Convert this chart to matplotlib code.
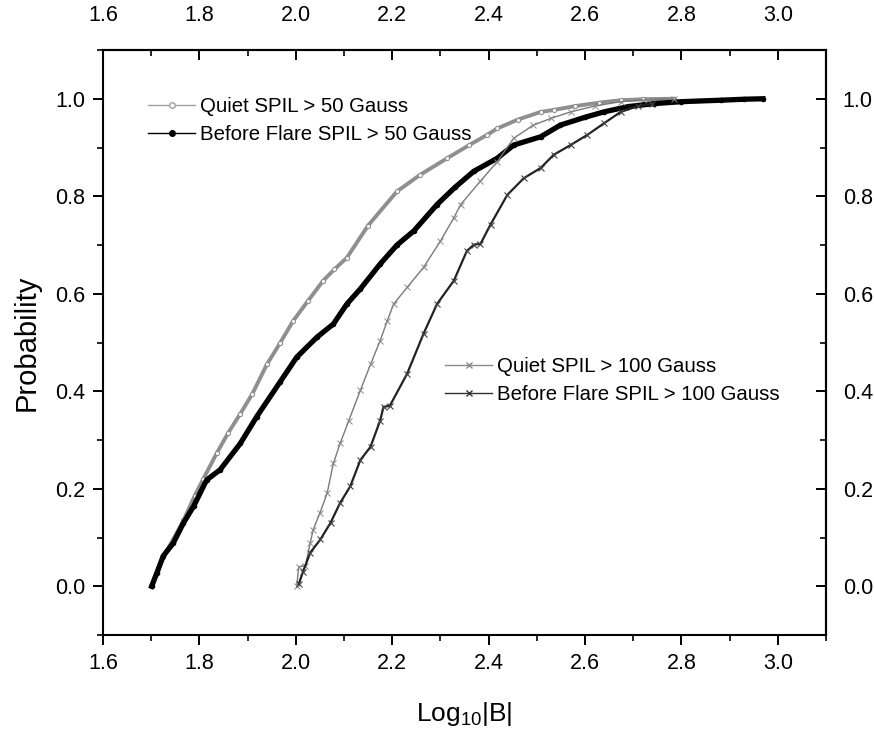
import matplotlib
matplotlib.use("Agg")
import matplotlib.pyplot as plt
from matplotlib.lines import Line2D
from matplotlib.ticker import MultipleLocator

plt.rcParams['font.family'] = ['Liberation Sans', 'DejaVu Sans']
plt.rcParams['mathtext.fontset'] = 'custom'
plt.rcParams['mathtext.rm'] = 'Liberation Sans'
plt.rcParams['mathtext.it'] = 'Liberation Sans:italic'
plt.rcParams['mathtext.bf'] = 'Liberation Sans:bold'

# ---- data ----
q50_x = [1.700, 1.712, 1.725, 1.745, 1.767, 1.790, 1.808, 1.836, 1.860, 1.885, 1.910, 1.940,
         1.968, 1.995, 2.025, 2.057, 2.080, 2.106, 2.150, 2.210, 2.258, 2.314, 2.360, 2.397,
         2.418, 2.460, 2.508, 2.535, 2.580, 2.630, 2.674, 2.720, 2.784]
q50_y = [0.000, 0.030, 0.060, 0.095, 0.135, 0.185, 0.220, 0.273, 0.315, 0.354, 0.395, 0.455,
         0.500, 0.545, 0.585, 0.627, 0.650, 0.674, 0.740, 0.810, 0.844, 0.878, 0.905, 0.926,
         0.939, 0.957, 0.973, 0.977, 0.985, 0.992, 0.997, 0.999, 1.000]

bf50_x = [1.701, 1.712, 1.725, 1.746, 1.767, 1.788, 1.815, 1.843, 1.885, 1.919, 1.968, 2.002,
          2.044, 2.078, 2.106, 2.134, 2.175, 2.210, 2.245, 2.293, 2.330, 2.369, 2.418, 2.452,
          2.508, 2.549, 2.600, 2.639, 2.690, 2.743, 2.800, 2.882, 2.930, 2.969]
bf50_y = [0.000, 0.028, 0.062, 0.089, 0.130, 0.164, 0.218, 0.239, 0.293, 0.348, 0.420, 0.470,
          0.511, 0.538, 0.579, 0.610, 0.661, 0.700, 0.729, 0.783, 0.818, 0.851, 0.878, 0.905,
          0.922, 0.946, 0.962, 0.973, 0.984, 0.990, 0.994, 0.997, 0.999, 1.000]

q100_x = [2.002, 2.006, 2.020, 2.030, 2.036, 2.050, 2.065, 2.078, 2.092, 2.110, 2.134, 2.155,
          2.175, 2.190, 2.203, 2.231, 2.265, 2.300, 2.328, 2.342, 2.383, 2.418, 2.452, 2.493,
          2.530, 2.570, 2.620, 2.674, 2.730, 2.784]
q100_y = [0.000, 0.040, 0.042, 0.089, 0.116, 0.150, 0.191, 0.252, 0.293, 0.340, 0.402, 0.455,
          0.504, 0.545, 0.579, 0.613, 0.654, 0.708, 0.756, 0.783, 0.831, 0.871, 0.919, 0.946,
          0.960, 0.973, 0.985, 0.994, 0.998, 1.000]

bf100_x = [2.006, 2.015, 2.030, 2.051, 2.072, 2.092, 2.113, 2.134, 2.155, 2.175, 2.182, 2.195,
           2.231, 2.265, 2.293, 2.328, 2.355, 2.370, 2.383, 2.404, 2.439, 2.473, 2.508, 2.535,
           2.570, 2.605, 2.640, 2.674, 2.710, 2.740]
bf100_y = [0.004, 0.030, 0.069, 0.096, 0.130, 0.171, 0.205, 0.259, 0.286, 0.340, 0.368, 0.370,
           0.436, 0.518, 0.579, 0.627, 0.688, 0.701, 0.702, 0.742, 0.803, 0.837, 0.858, 0.885,
           0.905, 0.926, 0.950, 0.973, 0.985, 0.990]

labels_50 = ["Quiet SPIL > 50 Gauss", "Before Flare SPIL > 50 Gauss"]
labels_100 = ["Quiet SPIL > 100 Gauss", "Before Flare SPIL > 100 Gauss"]
xticks = [1.6, 1.8, 2.0, 2.2, 2.4, 2.6, 2.8, 3.0]
yticks = [0.0, 0.2, 0.4, 0.6, 0.8, 1.0]

TICK_FS = 15.5
LEG_FS = 14.7

fig = plt.figure(figsize=(8.74, 7.35), dpi=100)
ax = fig.add_axes([103/874, 1 - 635/735, 723/874, 585/735])

gray50 = '#8f8f8f'
ax.plot(q50_x, q50_y, color=gray50, lw=2.8, marker='o', ms=3, mfc='white', mec=gray50, mew=0.8, zorder=2)
ax.plot(bf50_x, bf50_y, color='black', lw=3.8, marker='o', ms=3, mfc='black', mec='black', zorder=3)
ax.plot(q100_x, q100_y, color='#7a7a7a', lw=1.0, marker='x', ms=4, mew=0.7, mec='#8a8a8a', zorder=4)
ax.plot(bf100_x, bf100_y, color='#222222', lw=1.6, marker='x', ms=4, mew=0.8, mec='#444444', zorder=5)

ax.set_xlim(1.6, 3.1)
ax.set_ylim(-0.1, 1.1)
ax.set_xticks(xticks)
ax.set_yticks(yticks)
ax.set_xticklabels([f"{t:.1f}" for t in xticks])
ax.set_yticklabels([f"{t:.1f}" for t in yticks])
ax.xaxis.set_minor_locator(MultipleLocator(0.1))
ax.yaxis.set_minor_locator(MultipleLocator(0.1))
ax.tick_params(which='major', direction='out', length=7, width=1.4, labelsize=TICK_FS, pad=6)
ax.tick_params(which='minor', direction='out', length=4, width=1.2)
for s in ax.spines.values():
    s.set_linewidth(1.5)

secx = ax.secondary_xaxis('top')
secx.set_xticks(xticks)
secx.set_xticklabels([f"{t:.1f}" for t in xticks])
secx.xaxis.set_minor_locator(MultipleLocator(0.1))
secx.tick_params(which='major', direction='in', length=7, width=1.4, labelsize=TICK_FS, pad=17)
secx.tick_params(which='minor', direction='in', length=4, width=1.2)
secx.spines['top'].set_linewidth(1.5)

secy = ax.secondary_yaxis('right')
secy.set_yticks(yticks)
secy.set_yticklabels([f"{t:.1f}" for t in yticks])
secy.yaxis.set_minor_locator(MultipleLocator(0.1))
secy.tick_params(which='major', direction='in', length=7, width=1.4, labelsize=TICK_FS, pad=12)
secy.tick_params(which='minor', direction='in', length=4, width=1.2)
secy.spines['right'].set_linewidth(1.5)

ax.set_xlabel(r"Log$_{\mathregular{10}}$|B|", fontsize=19, labelpad=19)
ax.set_ylabel("Probability", fontsize=21, labelpad=10)

h50 = [Line2D([], [], color='#a0a0a0', lw=1.0, marker='o', ms=4, mfc='white', mec='#a0a0a0'),
       Line2D([], [], color='black', lw=1.0, marker='o', ms=4, mfc='black', mec='black')]
leg1 = ax.legend(h50, labels_50, loc='upper left', bbox_to_anchor=(0.037, 0.951), frameon=False,
                 fontsize=LEG_FS, handlelength=2.3, handletextpad=0.25, labelspacing=0.46)
ax.add_artist(leg1)
h100 = [Line2D([], [], color='#8a8a8a', lw=1.0, marker='x', ms=4, mec='#8a8a8a'),
        Line2D([], [], color='#333333', lw=1.0, marker='x', ms=4, mec='#333333')]
ax.legend(h100, labels_100, loc='upper left', bbox_to_anchor=(0.448, 0.5065), frameon=False,
          fontsize=LEG_FS, handlelength=2.3, handletextpad=0.25, labelspacing=0.46)

fig.savefig("out.png", dpi=100)
